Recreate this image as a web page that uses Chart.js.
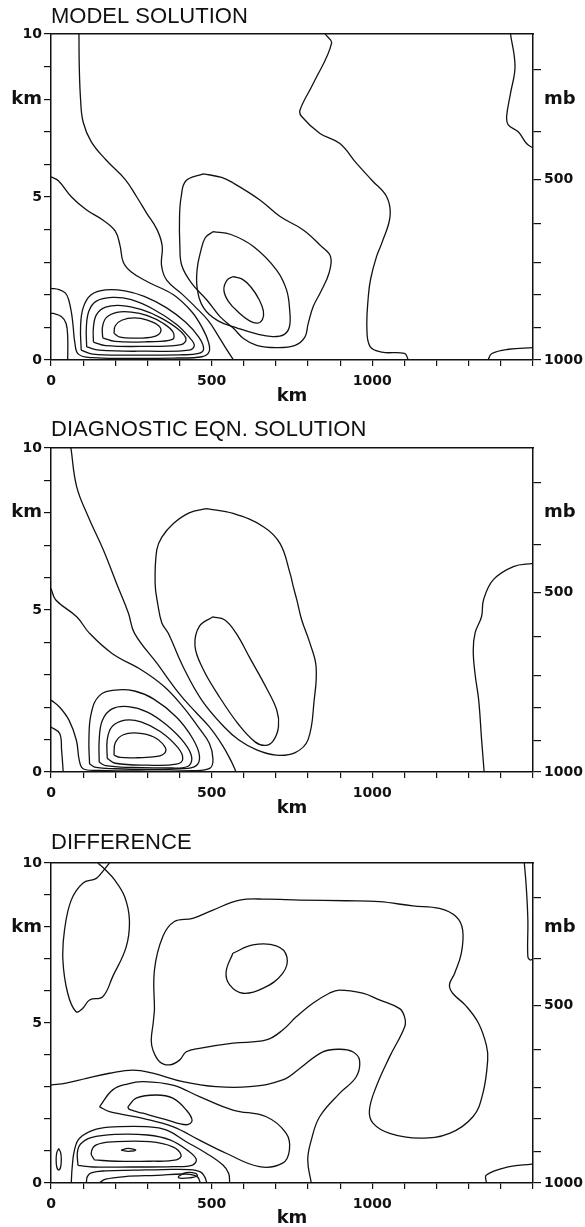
<!DOCTYPE html>
<html>
<head>
<meta charset="utf-8">
<title>Model / diagnostic / difference</title>
<script src="https://cdn.jsdelivr.net/npm/chart.js@4.4.1/dist/chart.umd.min.js"></script>
<style>
  html, body { margin: 0; padding: 0; background: #fff; overflow: hidden; }
  body { width: 585px; height: 1227px; position: relative; }
  canvas { position: absolute; left: 0; }
</style>
</head>
<body>
<canvas id="panelModel" width="585" height="414" style="top:0px;width:585px;height:414px"></canvas>
<canvas id="panelDiag" width="585" height="415" style="top:414px;width:585px;height:415px"></canvas>
<canvas id="panelDiff" width="585" height="398" style="top:829px;width:585px;height:398px"></canvas>
<script>
// ==============================================================
//  axis data (km on x and left, pressure on right)
// ==============================================================
const xTickLabels = [0, 500, 1000];
const leftTickKm = [0, 5, 8, 10];
const leftTickText = ['0', '5', 'km', '10'];
const pressureKm = [0, 0.98, 2.0, 2.98, 4.18, 5.54, 7.02, 8.92];
const pressureMb = [1000, 900, 800, 700, 600, 500, 400, 300];
const pressureLabelled = [1000, 500];
const mbLabelKm = 8;

// ==============================================================
//  contour lines, [km, km] — MODEL SOLUTION
// ==============================================================
const model_A = [[87,10],[88,9],[92,8],[100,7.3],[125,6.7],[170,6.15],[230,5.55],[267,5.0],[298,4.5],[330,4.0],[346,3.5],[344,2.9],[360,2.45],[408,2.02],[452,1.6],[490,1.2],[520,0.75],[548,0.3],[568,0]];
const model_BC = [[0,5.62],[23,5.5],[64,5.0],[111,4.6],[160,4.3],[200,3.95],[215,3.5],[225,3.0],[250,2.7],[300,2.4],[381,2.0],[438,1.48],[470,1.0],[490,0.55],[492,0.25],[470,0.1],[380,0.06],[250,0.05],[130,0.07],[85,0.18],[74,0.55],[69,1.02],[64,1.43],[55,1.85],[45,2.05],[25,2.16],[0,2.2]];
const model_D = [[0,1.43],[7,1.43],[33,1.33],[47,1.12],[52,0.7],[52,0]];
const model_L5 = [[94,0.3],[92,1.0],[100,1.6],[125,2.0],[170,2.15],[230,2.12],[290,1.95],[360,1.6],[420,1.15],[460,0.7],[475,0.35],[460,0.2],[400,0.16],[250,0.15],[130,0.18],[94,0.3]];
const model_L4 = [[111,0.4],[110,1.0],[118,1.5],[140,1.8],[190,1.92],[250,1.85],[320,1.55],[390,1.1],[430,0.7],[446,0.45],[430,0.3],[300,0.27],[150,0.3],[111,0.4]];
const model_L3 = [[132,0.55],[132,1.0],[142,1.4],[170,1.62],[220,1.67],[280,1.55],[340,1.3],[395,0.95],[420,0.65],[405,0.47],[300,0.42],[170,0.44],[132,0.55]];
const model_L2 = [[161,0.68],[160,1.0],[172,1.3],[205,1.46],[250,1.47],[300,1.36],[350,1.12],[380,0.85],[378,0.63],[300,0.56],[200,0.57],[161,0.68]];
const model_L1 = [[196,0.82],[200,1.05],[220,1.22],[260,1.29],[300,1.22],[335,1.05],[341,0.86],[320,0.72],[260,0.67],[215,0.7],[196,0.82]];
const model_I = [[567,2.56],[595,2.48],[622,2.24],[648,1.85],[661,1.5],[658,1.24],[643,1.13],[618,1.2],[585,1.45],[552,1.8],[538,2.15],[548,2.45],[567,2.56]];
const model_M = [[505,3.94],[560,3.85],[630,3.48],[702,2.76],[733,2.15],[743,1.5],[742,1.02],[725,0.78],[690,0.72],[640,0.8],[580,0.98],[520,1.2],[475,1.6],[455,2.2],[455,2.8],[465,3.3],[480,3.75],[505,3.94]];
const model_E = [[474,5.71],[531,5.6],[567,5.43],[650,4.91],[713,4.4],[785,3.99],[840,3.5],[870,3.17],[865,2.66],[840,2.1],[816,1.64],[800,1.1],[790,0.7],[760,0.45],[700,0.38],[640,0.45],[600,0.65],[567,0.98],[526,1.33],[485,1.84],[438,2.35],[407,2.9],[401,3.5],[400,4.4],[405,5.0],[420,5.5],[474,5.71]];
const model_K = [[853,10],[873,9.71],[816,8.48],[775,7.67],[780,7.47],[837,6.95],[899,6.64],[951,6.03],[1000,5.5],[1045,5.0],[1055,4.4],[1030,3.6],[1013,3.17],[995,2.5],[988,2.0],[983,1.02],[993,0.41],[1030,0.24],[1100,0.2],[1112,0]];
const model_RT = [[1430,10],[1444,9.0],[1430,8.18],[1418,7.47],[1423,7.21],[1454,7.0],[1480,6.64],[1500,6.5]];
const model_RB = [[1360,0],[1372,0.2],[1424,0.33],[1500,0.38]];

// ==============================================================
//  DIAGNOSTIC EQN. SOLUTION
// ==============================================================
const diag_A = [[62,10],[80,8.8],[116,7.88],[163,6.85],[204,5.82],[241,4.9],[260,4.28],[330,3.35],[399,2.42],[450,1.85],[493,1.39],[535,0.8],[560,0.35],[576,0]];
const diag_BC = [[0,5.66],[15,5.31],[80,4.79],[120,4.28],[190,3.66],[283,3.14],[353,2.63],[411,2.01],[458,1.39],[493,0.88],[504,0.4],[495,0.12],[440,0.04],[300,0.03],[150,0.05],[100,0.1],[88,0.36],[79,0.98],[56,1.6],[27,2.0],[0,2.22]];
const diag_D = [[0,1.39],[27,1.19],[33,0.67],[38,0]];
const diag_L3 = [[120,0.25],[118,1.0],[125,1.8],[150,2.35],[200,2.53],[260,2.5],[320,2.25],[390,1.7],[440,1.05],[462,0.5],[450,0.18],[400,0.1],[300,0.08],[200,0.1],[140,0.14],[120,0.25]];
const diag_L2 = [[150,0.3],[150,1.0],[160,1.6],[190,1.95],[240,2.02],[300,1.85],[360,1.45],[415,0.9],[438,0.45],[425,0.17],[350,0.13],[250,0.14],[170,0.2],[150,0.3]];
const diag_L15 = [[175,0.42],[175,1.0],[190,1.4],[230,1.6],[280,1.55],[340,1.25],[395,0.75],[410,0.4],[390,0.24],[300,0.21],[200,0.27],[175,0.42]];
const diag_L1 = [[196,0.52],[200,0.9],[225,1.15],[270,1.2],[320,1.08],[353,0.8],[355,0.6],[330,0.48],[270,0.44],[215,0.45],[196,0.52]];
const diag_M = [[504,4.79],[540,4.7],[575,4.3],[620,3.5],[670,2.6],[703,1.9],[708,1.4],[692,0.97],[667,0.82],[635,0.93],[585,1.45],[522,2.35],[472,3.2],[448,3.9],[462,4.5],[504,4.79]];
const diag_E = [[484,8.13],[430,8.0],[381,7.67],[345,7.25],[329,6.85],[324,5.82],[332,5.2],[345,4.6],[365,4.28],[411,3.25],[469,2.22],[539,1.39],[586,0.98],[640,0.68],[700,0.52],[760,0.6],[800,1.0],[819,2.22],[825,3.25],[805,4.0],[780,4.7],[765,5.31],[754,5.72],[744,6.13],[713,7.05],[661,7.57],[567,7.98],[484,8.13]];
const diag_R = [[1500,6.44],[1439,6.34],[1376,5.93],[1346,5.31],[1340,4.8],[1320,4.3],[1314,3.76],[1320,3.0],[1331,2.22],[1340,1.0],[1348,0]];

// ==============================================================
//  DIFFERENCE
// ==============================================================
const diff_T = [[146,10],[170,9.78],[198,9.47],[229,8.95],[244,8.22],[234,7.38],[192,6.45],[161,5.82],[120,5.72],[99,5.46],[78,5.35],[52,5.93],[37,6.97],[42,7.9],[63,8.84],[99,9.37],[141,9.52],[166,9.8],[182,10]];
const diff_Q = [[322,5.41],[322,6.66],[348,7.7],[384,8.17],[441,8.27],[504,8.53],[587,8.84],[670,8.87],[774,8.84],[919,8.82],[1022,8.79],[1126,8.66],[1209,8.58],[1261,8.32],[1281,7.91],[1277,7.18],[1256,6.55],[1240,6.19],[1250,5.93],[1290,5.55],[1330,5.0],[1355,4.3],[1359,3.84],[1344,2.8],[1313,2.07],[1240,1.55],[1147,1.4],[1054,1.55],[1002,1.87],[991,2.28],[1012,3.01],[1054,3.95],[1101,4.89],[1100,5.2],[1085,5.45],[1022,5.72],[970,5.93],[897,6.03],[866,5.93],[815,5.62],[764,5.2],[721,4.78],[670,4.47],[567,4.37],[462,4.21],[421,4.1],[400,3.84],[369,3.69],[338,3.79],[317,4.16],[312,4.47],[318,5.0],[322,5.41]];
const diff_E = [[566,7.18],[628,7.44],[701,7.41],[734,7.07],[721,6.55],[659,6.08],[597,5.93],[556,6.19],[545,6.6],[566,7.18]];
const diff_W = [[0,3.06],[47,3.12],[110,3.27],[182,3.43],[255,3.53],[317,3.43],[410,3.17],[514,3.01],[618,3.01],[721,3.22],[774,3.58],[846,4.1],[900,4.18],[939,4.1],[960,3.84],[950,3.32],[898,2.8],[836,2.07],[810,1.34],[799,0.72],[810,0]];
const diff_O1 = [[151,2.38],[192,2.91],[240,3.1],[286,3.17],[379,3.06],[462,2.7],[566,2.28],[670,2.07],[732,1.55],[742,1.03],[721,0.62],[649,0.51],[545,0.93],[462,1.34],[379,1.76],[286,2.02],[182,2.23],[151,2.38]];
const diff_O2 = [[239,2.38],[265,2.65],[327,2.75],[379,2.65],[421,2.28],[439,1.95],[421,1.82],[358,1.98],[286,2.18],[244,2.3],[239,2.38]];
const diff_P1 = [[63,0],[66,0.5],[73,1.03],[89,1.4],[141,1.68],[213,1.76],[296,1.76],[358,1.66],[421,1.29],[483,0.93],[535,0.56],[553,0.3],[556,0]];
const diff_P1b = [[84,0.55],[82,0.95],[92,1.22],[125,1.42],[200,1.52],[300,1.5],[370,1.35],[425,1.02],[452,0.74],[440,0.56],[380,0.51],[250,0.5],[130,0.5],[84,0.55]];
const diff_P3 = [[135,0.72],[125,0.93],[141,1.19],[203,1.29],[307,1.29],[379,1.13],[405,0.87],[390,0.72],[307,0.68],[203,0.68],[135,0.72]];
const diff_eye = [[218,1.03],[240,1.08],[264,1.03],[240,0.99],[218,1.03]];
const diff_P2 = [[110,0],[113,0.2],[125,0.32],[170,0.38],[260,0.4],[350,0.42],[430,0.42],[465,0.35],[478,0.2],[485,0]];
const diff_P2b = [[150,0],[170,0.12],[230,0.2],[330,0.24],[420,0.28],[455,0.2],[465,0]];
const diff_S = [[395,0.2],[420,0.32],[450,0.3],[455,0.22],[430,0.16],[400,0.15],[395,0.2]];
const diff_small = [[24,1.08],[30,0.95],[32,0.75],[30,0.5],[24,0.41],[18,0.5],[16,0.75],[18,0.95],[24,1.08]];
const diff_RT = [[1473,10],[1479,9.26],[1484,8.22],[1484,7.07],[1491,6.97],[1500,7.0]];
const diff_RB = [[1355,0],[1355,0.25],[1427,0.51],[1496,0.59],[1500,0.6]];

// --- grupos por painel ---
const modelContours = [model_A, model_BC, model_D, model_L5, model_L4, model_L3, model_L2, model_L1, model_I, model_M, model_E, model_K, model_RT, model_RB];
const diagContours = [diag_A, diag_BC, diag_D, diag_L3, diag_L2, diag_L15, diag_L1, diag_M, diag_E, diag_R];
const diffContours = [diff_T, diff_Q, diff_E, diff_W, diff_O1, diff_O2, diff_P1, diff_P1b, diff_P3, diff_eye, diff_P2, diff_P2b, diff_S, diff_small, diff_RT, diff_RB];

// ==============================================================
//  helpers
// ==============================================================
const NUM_FONT = { family: 'DejaVu Sans', size: 14, weight: 'bold' };
const UNIT_FONT = { family: 'DejaVu Sans', size: 18, weight: 'bold', lineHeight: 1 };

function toPoints(arr) {
    return arr.map(p => ({ x: p[0], y: p[1] }));
}

function buildPanel(canvasId, titleText, contours, titlePad, kmPadBottom, xAxisHeight) {
    const ctx = document.getElementById(canvasId);
    const datasets = contours.map(c => ({
        data: toPoints(c),
        showLine: true,
        borderColor: '#111',
        borderWidth: 1.3,
        pointRadius: 0,
        tension: 0.4,
        fill: false
    }));

    return new Chart(ctx, {
        type: 'scatter',
        data: { datasets: datasets },
        options: {
            responsive: false,
            animation: false,
            devicePixelRatio: 1,
            layout: { padding: 0 },
            plugins: {
                legend: { display: false },
                tooltip: { enabled: false },
                title: {
                    display: true,
                    text: titleText,
                    align: 'start',
                    fullSize: false,
                    color: '#111',
                    font: { family: 'Liberation Sans', size: 22, weight: 'normal' },
                    padding: titlePad
                }
            },
            scales: {
                x: {
                    type: 'linear',
                    position: 'bottom',
                    min: 0, max: 1500,
                    afterFit: s => { s.height = xAxisHeight; },
                    border: { display: true, color: '#111', width: 1.5 },
                    grid: { drawOnChartArea: false, drawTicks: true, tickLength: 6, color: '#111', lineWidth: 1.2 },
                    ticks: {
                        stepSize: 100, autoSkip: false, maxRotation: 0, padding: 7,
                        color: '#111', font: NUM_FONT,
                        callback: v => xTickLabels.includes(v) ? String(v) : ''
                    },
                    title: {
                        display: true, text: 'km', color: '#111', font: UNIT_FONT,
                        padding: { top: 0, bottom: kmPadBottom }
                    }
                },
                xTop: {
                    type: 'linear',
                    position: 'top',
                    min: 0, max: 1500,
                    afterFit: s => { s.height = 0; },
                    border: { display: true, color: '#111', width: 1.5 },
                    grid: { drawOnChartArea: false, drawTicks: false },
                    ticks: { display: false }
                },
                y: {
                    type: 'linear',
                    position: 'left',
                    min: 0, max: 10,
                    afterFit: s => { s.width = 51; },
                    border: { display: true, color: '#111', width: 1.5 },
                    grid: { drawOnChartArea: false, drawTicks: true, tickLength: 7, color: '#111', lineWidth: 1.2 },
                    ticks: {
                        stepSize: 1, autoSkip: false, padding: 2, color: '#111',
                        font: c => (c.tick && c.tick.value === 8) ? UNIT_FONT : NUM_FONT,
                        callback: v => {
                            const i = leftTickKm.indexOf(v);
                            return i >= 0 ? leftTickText[i] : '';
                        }
                    }
                },
                y2: {
                    type: 'linear',
                    position: 'right',
                    min: 0, max: 10,
                    afterFit: s => { s.width = 52; },
                    afterBuildTicks: s => {
                        s.ticks = pressureKm.concat([mbLabelKm])
                            .sort((a, b) => a - b)
                            .map(v => ({ value: v }));
                    },
                    border: { display: true, color: '#111', width: 1.5 },
                    grid: {
                        drawOnChartArea: false, drawTicks: true, tickLength: 8, lineWidth: 1.2,
                        color: c => (c.tick && c.tick.value === mbLabelKm) ? 'rgba(0,0,0,0)' : '#111'
                    },
                    ticks: {
                        autoSkip: false, padding: 3, color: '#111',
                        font: c => (c.tick && c.tick.value === mbLabelKm) ? UNIT_FONT : NUM_FONT,
                        callback: v => {
                            if (v === mbLabelKm) return 'mb';
                            const i = pressureKm.indexOf(v);
                            if (i < 0) return '';
                            return pressureLabelled.includes(pressureMb[i]) ? String(pressureMb[i]) : '';
                        }
                    }
                }
            }
        }
    });
}

// ==============================================================
//  INIT
// ==============================================================
document.addEventListener('DOMContentLoaded', function() {
    buildPanel('panelModel', 'MODEL SOLUTION', modelContours, { top: 3.8, bottom: 3.8 }, 9, 54);
    buildPanel('panelDiag', 'DIAGNOSTIC EQN. SOLUTION', diagContours, { top: 2.3, bottom: 5.3 }, 12, 57);
    buildPanel('panelDiff', 'DIFFERENCE', diffContours, { top: 0.8, bottom: 6.8 }, 0, 44);
});
</script>
</body>
</html>
